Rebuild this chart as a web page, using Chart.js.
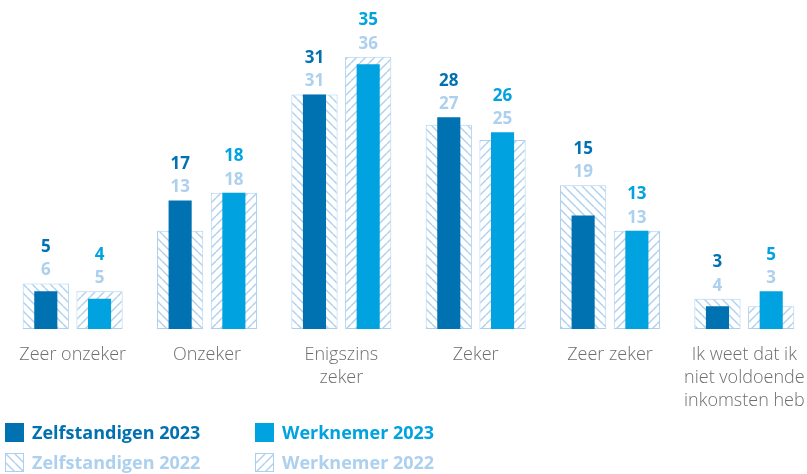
<!DOCTYPE html>
<html>
<head>
<meta charset="utf-8">
<script src="https://cdn.jsdelivr.net/npm/chart.js@4/dist/chart.umd.min.js"></script>
<style>
  html, body { margin: 0; padding: 0; background: #fff; overflow: hidden; }
  #wrap { position: relative; width: 813px; height: 474px; }
  #chart { position: absolute; left: 0; top: 0; }
  .legend { position: absolute; font-family: "Open Sans", sans-serif; font-weight: 700; font-size: 18px; white-space: nowrap; }
  .legend .sw { position: absolute; left: 0; top: 0; width: 19px; height: 19px; box-sizing: border-box; }
  .legend .tx { position: absolute; left: 27px; top: -3px; line-height: 24px; }
</style>
</head>
<body>
<div id="wrap">
  <canvas id="chart" width="813" height="474"></canvas>
  <div class="legend" style="left:5px;top:423px;"><div class="sw" style="background:#0072b1"></div><div class="tx" style="color:#0072b1">Zelfstandigen 2023</div></div>
  <div class="legend" style="left:255px;top:423px;"><div class="sw" style="background:#00a3e0"></div><div class="tx" style="color:#00a3e0">Werknemer 2023</div></div>
  <div class="legend" style="left:5px;top:453px;"><div class="sw" id="swZ22"></div><div class="tx" style="color:#add0ef">Zelfstandigen 2022</div></div>
  <div class="legend" style="left:255px;top:453px;"><div class="sw" id="swW22"></div><div class="tx" style="color:#add0ef">Werknemer 2022</div></div>
</div>
<script>
// Survey answers (percentages)
const categories = [
  'Zeer onzeker',
  'Onzeker',
  ['Enigszins', 'zeker'],
  'Zeker',
  'Zeer zeker',
  ['Ik weet dat ik', 'niet voldoende', 'inkomsten heb']
];
const zelfstandigen2023 = [5, 17, 31, 28, 15, 3];
const zelfstandigen2022 = [6, 13, 31, 27, 19, 4];
const werknemer2023 = [4, 18, 35, 26, 13, 5];
const werknemer2022 = [5, 18, 36, 25, 13, 3];

const DARK = '#0072b1';
const BRIGHT = '#00a3e0';
const LIGHT = '#add0ef';

// Diagonal hatch pattern; dir = 1 for "\" lines, -1 for "/" lines
function makeHatch(dir) {
  const s = 9;
  const c = document.createElement('canvas');
  c.width = s; c.height = s;
  const g = c.getContext('2d');
  g.fillStyle = '#fff';
  g.fillRect(0, 0, s, s);
  g.strokeStyle = LIGHT;
  g.lineWidth = 1.4;
  for (let k = -1; k <= 1; k++) {
    g.beginPath();
    if (dir === 1) {
      g.moveTo(k * s, 0); g.lineTo(k * s + s, s);
    } else {
      g.moveTo(k * s, s); g.lineTo(k * s + s, 0);
    }
    g.stroke();
  }
  return c;
}
const hatchZ = makeHatch(1);
const hatchW = makeHatch(-1);

function swatch(id, canvas) {
  const el = document.getElementById(id);
  el.style.border = '1px solid ' + LIGHT;
  el.style.backgroundImage = 'url(' + canvas.toDataURL() + ')';
}
swatch('swZ22', hatchZ);
swatch('swW22', hatchW);

const ctx = document.getElementById('chart').getContext('2d');
const patZ = ctx.createPattern(hatchZ, 'repeat');
const patW = ctx.createPattern(hatchW, 'repeat');

// Value labels above each group: 2023 (bold, coloured) over 2022 (light)
const valueLabels = {
  id: 'valueLabels',
  afterDatasetsDraw(chart) {
    const c = chart.ctx;
    const y = chart.scales.y;
    const pairs = [[0, 1, DARK], [2, 3, BRIGHT]];
    c.save();
    c.textAlign = 'center';
    c.textBaseline = 'middle';
    c.font = 'bold 17px "Open Sans", sans-serif';
    pairs.forEach(([solid, hatch, col]) => {
      const dsS = chart.data.datasets[solid].data;
      const dsH = chart.data.datasets[hatch].data;
      const meta = chart.getDatasetMeta(solid);
      dsS.forEach((v, i) => {
        const x = meta.data[i].x;
        const top = y.getPixelForValue(Math.max(v, dsH[i]));
        c.fillStyle = LIGHT;
        c.fillText(String(dsH[i]), x, top - 13);
        c.fillStyle = col;
        c.fillText(String(v), x, top - 36.5);
      });
    });
    c.restore();
  }
};

new Chart(ctx, {
  type: 'bar',
  data: {
    labels: categories,
    datasets: [
      { label: 'Zelfstandigen 2023', data: zelfstandigen2023, stack: 'z', order: 1,
        backgroundColor: DARK, barPercentage: 0.43, categoryPercentage: 0.8 },
      { label: 'Zelfstandigen 2022', data: zelfstandigen2022, stack: 'z', order: 2,
        backgroundColor: patZ, borderColor: LIGHT, borderWidth: 1, borderSkipped: false,
        barPercentage: 0.86, categoryPercentage: 0.8 },
      { label: 'Werknemer 2023', data: werknemer2023, stack: 'w', order: 1,
        backgroundColor: BRIGHT, barPercentage: 0.43, categoryPercentage: 0.8 },
      { label: 'Werknemer 2022', data: werknemer2022, stack: 'w', order: 2,
        backgroundColor: patW, borderColor: LIGHT, borderWidth: 1, borderSkipped: false,
        barPercentage: 0.86, categoryPercentage: 0.8 }
    ]
  },
  options: {
    responsive: false,
    animation: false,
    events: [],
    layout: { padding: { left: 5.5, right: 1.5, top: 0, bottom: 0 } },
    plugins: { legend: { display: false }, tooltip: { enabled: false } },
    scales: {
      x: {
        stacked: true,
        grid: { display: false, drawTicks: false },
        border: { display: false },
        ticks: {
          color: '#6e6e6e',
          padding: 14,
          maxRotation: 0,
          autoSkip: false,
          font: { family: '"Open Sans", sans-serif', size: 18, weight: 300, lineHeight: 1.28 }
        },
        afterFit(scale) {
          // fixed axis band; categories span the full plot width
          scale.height = 145;
          scale.paddingLeft = 0;
          scale.paddingRight = 0;
        }
      },
      y: {
        display: false,
        stacked: false,
        min: 0,
        max: 43.5
      }
    }
  },
  plugins: [valueLabels]
});
</script>
</body>
</html>
